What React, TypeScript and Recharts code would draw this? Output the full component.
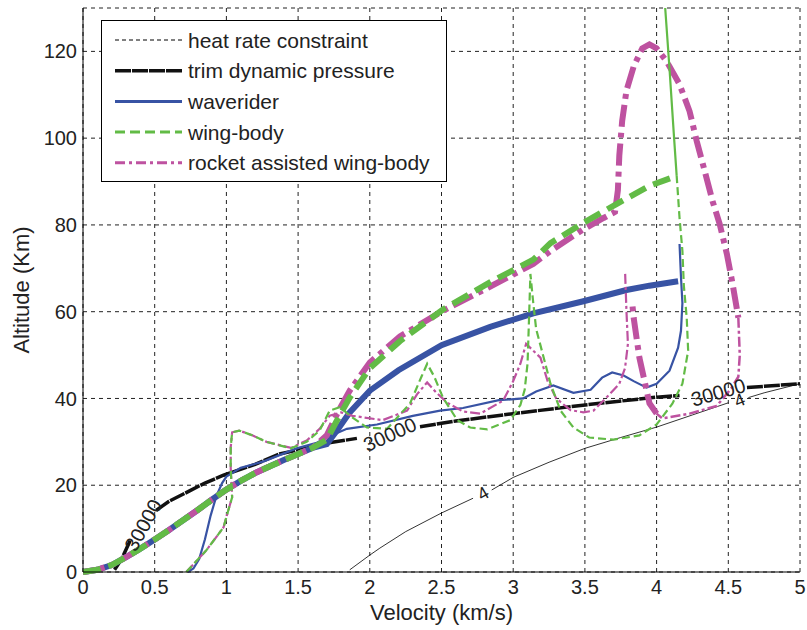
import { LineChart, Line, XAxis, YAxis, CartesianGrid, Legend, ReferenceDot } from "recharts";

type Pt = [number, number | null];

const FONT = '"Liberation Sans", Arial, Helvetica, sans-serif';
const BLUE = "#3853A4";
const GREEN = "#62BB46";
const MAGENTA = "#BE52A0";

const xTicks = [0, 0.5, 1, 1.5, 2, 2.5, 3, 3.5, 4, 4.5, 5];
const yTicks = [0, 20, 40, 60, 80, 100, 120];

const legendNames = [
  "heat rate constraint",
  "trim dynamic pressure",
  "waverider",
  "wing-body",
  "rocket assisted wing-body",
];

// shared low-altitude climb (all three thick trajectories overlap here)
const commonClimb: Pt[] = [
  [0, 0], [0.1, 0.5], [0.2, 1.6], [0.3, 3.4], [0.4, 5.4], [0.5, 7.5], [0.6, 9.7],
  [0.7, 12], [0.8, 14.3], [0.9, 16.7], [1.0, 19], [1.1, 21], [1.2, 22.8],
  [1.3, 24.3], [1.4, 25.8], [1.5, 27.2], [1.6, 28.6],
];

const heatRate: Pt[] = [
  [1.86, 0.5], [2.0, 3.9], [2.07, 5.5], [2.25, 9.3], [2.5, 13.6], [2.72, 17],
  [2.74, null],
  [2.85, 18.9], [3.0, 21.8], [3.25, 25.3], [3.5, 28.5], [3.75, 31], [4.0, 33.4],
  [4.25, 36.2], [4.5, 39], [4.52, null], [4.64, 40.2], [4.75, 41.3], [5.0, 43.4],
];

const trimPressure: Pt[] = [
  [0.22, 0.5], [0.27, 3], [0.33, 7.3], [0.4, null],
  [0.51, 14.2], [0.6, 16.3], [0.75, 18.8], [0.85, 20.5], [0.98, 22.3], [1.2, 24.8],
  [1.37, 27.2], [1.55, 28.5], [1.7, 29.7], [1.91, 30.8], [2.0, null],
  [2.35, 33.5], [2.6, 34.8], [3.0, 36.5], [3.47, 38.4], [4.0, 40.3], [4.16, 40.7],
  [4.3, null],
  [4.63, 42.5], [5.0, 43.4],
];

const waveriderThick: Pt[] = [
  ...commonClimb,
  [1.7, 29.5], [1.78, 33], [1.86, 36.8], [2.0, 41.8], [2.2, 46.5], [2.5, 52.3],
  [2.84, 56.5], [3.14, 59.6], [3.49, 62.4], [3.79, 65], [3.95, 66], [4.15, 67],
];

const waveriderThin: Pt[] = [
  [0.73, 0], [0.77, 0.8], [0.81, 3], [0.85, 7.5], [0.89, 13], [0.93, 17.5],
  [0.97, 20.5], [1.0, 22], [1.1, 24], [1.26, 25.5], [1.49, 28.5], [1.63, 29.8],
  [1.7, 31], [1.84, 33], [2.05, 34], [2.3, 36], [2.49, 37.2], [2.65, 37.8],
  [2.9, 39.6], [3.07, 40], [3.16, 41.6], [3.28, 43], [3.42, 41.3], [3.54, 42],
  [3.62, 44.8], [3.69, 46], [3.77, 45.3], [3.84, 44], [3.93, 42.5], [4.0, 43.4],
  [4.09, 46.4], [4.15, 51.7], [4.17, 55.6], [4.18, 62], [4.17, 68], [4.16, 75.6],
];

const wingBodyThick: Pt[] = [
  ...commonClimb,
  [1.7, 30.5], [1.78, 35.5], [1.86, 40.2], [2.0, 47], [2.21, 53.2], [2.51, 60.5],
  [2.84, 66.8], [3.14, 72], [3.26, 75.8], [3.49, 80.5], [3.72, 84.8], [3.95, 89],
  [4.14, 91.3],
];

const wingBodyClimb: Pt[] = [[4.14, 91.3], [4.12, 101], [4.09, 116], [4.06, 130]];

const wingBodyThin: Pt[] = [
  [0.72, 0], [0.86, 5], [0.98, 10.3], [1.02, 15], [1.04, 17.2], [1.03, 24],
  [1.03, 28.7], [1.04, 32.2], [1.09, 32.6], [1.18, 31.5], [1.28, 30], [1.45, 28.5],
  [1.56, 30], [1.65, 32.6], [1.72, 37.2], [1.79, 38], [1.88, 35.6], [1.98, 33.3],
  [2.12, 33], [2.28, 38.8], [2.36, 45], [2.4, 48], [2.45, 45], [2.51, 40.2],
  [2.61, 35], [2.7, 33.3], [2.82, 32.9], [2.98, 35], [3.05, 38.5], [3.08, 42],
  [3.1, 48], [3.11, 58], [3.12, 68.7], [3.14, 62], [3.16, 56], [3.2, 51],
  [3.26, 43.4], [3.33, 37.2], [3.42, 33.3], [3.53, 31], [3.7, 30.5], [3.88, 31.5],
  [4.0, 34], [4.11, 38.8], [4.18, 43.4], [4.22, 51], [4.21, 58.6], [4.19, 66],
  [4.18, 74], [4.16, 81.6], [4.14, 91.3],
];

const rocketThick: Pt[] = [
  ...commonClimb,
  [1.7, 31.5], [1.78, 37], [1.86, 41.8], [2.0, 48.3], [2.21, 54.3], [2.51, 60.2],
  [2.84, 65.8], [3.14, 71], [3.26, 74], [3.49, 79], [3.63, 81.6], [3.71, 83],
  [3.73, 88], [3.74, 96], [3.76, 104], [3.79, 111], [3.84, 116.5], [3.9, 120.7],
  [3.95, 121.6], [4.0, 120.7], [4.07, 117.7], [4.16, 112.4], [4.23, 106.2],
  [4.28, 99.3], [4.33, 93.1], [4.39, 85.5], [4.44, 80.2], [4.49, 73.3], [4.53, 66.4],
  [4.57, 58.6],
];

const rocketTail: Pt[] = [
  [4.57, 58.6], [4.58, 50], [4.57, 45], [4.52, 42.3], [4.42, 38.3], [4.23, 36.5],
  [4.04, 35.4], [4.0, 36.5],
];

const rocketDescent: Pt[] = [
  [4.0, 36.5], [3.95, 38.9], [3.92, 43.4], [3.88, 49.4], [3.84, 58.6], [3.83, 62],
];

const rocketThin: Pt[] = [
  [0.72, 0], [0.86, 5], [0.98, 10.3], [1.02, 15], [1.04, 17.2], [1.03, 24],
  [1.03, 28.7], [1.04, 32.2], [1.09, 32.6], [1.18, 31.5], [1.28, 30], [1.45, 28.6],
  [1.56, 30.3], [1.65, 33], [1.72, 36], [1.8, 36.8], [1.88, 36], [2.09, 35],
  [2.26, 37.2], [2.33, 41], [2.4, 43.7], [2.46, 41.5], [2.54, 39], [2.65, 37],
  [2.77, 36.5], [2.93, 39.5], [3.0, 44], [3.05, 48], [3.09, 52.6], [3.14, 51],
  [3.19, 49.4], [3.24, 44], [3.3, 40], [3.4, 37.3], [3.49, 36.8], [3.56, 37.2],
  [3.65, 40.2], [3.74, 43.4], [3.78, 47], [3.8, 52.6], [3.79, 60], [3.78, 69.4],
];

// contour labels written on the constraint curves
const contourLabels = [
  { v: 0.42, a: 10.8, text: "30000", angle: -61 },
  { v: 2.14, a: 31.7, text: "30000", angle: -24 },
  { v: 4.43, a: 41.4, text: "30000", angle: -16 },
  { v: 2.79, a: 18.1, text: "4", angle: -30 },
  { v: 4.58, a: 39.6, text: "4", angle: -22 },
];

const rows = (pts: Pt[]) => pts.map(([v, a]) => ({ v, a }));

const legendStyles = [
  { stroke: "#000", width: 1, dash: "4 3" },
  { stroke: "#111", width: 3.5, dash: "16 1" },
  { stroke: BLUE, width: 3, dash: undefined },
  { stroke: GREEN, width: 3, dash: "10 5" },
  { stroke: MAGENTA, width: 3, dash: "10 4 3 4" },
];

function LegendBox() {
  return (
    <svg width={346} height={162} style={{ display: "block" }}>
      <rect x={0.5} y={0.5} width={345} height={161} fill="#fff" stroke="#000" />
      {legendNames.map((name, i) => {
        const y = 20 + i * 30.7;
        const s = legendStyles[i];
        return (
          <g key={name}>
            <line x1={14} x2={81} y1={y} y2={y} stroke={s.stroke} strokeWidth={s.width} strokeDasharray={s.dash} />
            <text x={87} y={y + 7.5} fontSize={21} fontFamily={FONT} fill="#222">
              {name}
            </text>
          </g>
        );
      })}
    </svg>
  );
}

function XLabel(props: any) {
  const vb = props.viewBox || { x: 83, width: 717 };
  return (
    <text x={vb.x + vb.width / 2} y={620} textAnchor="middle" fontSize={22} fontFamily={FONT} fill="#222">
      Velocity (km/s)
    </text>
  );
}

function YLabel(props: any) {
  const vb = props.viewBox || { y: 8, height: 564 };
  const cy = vb.y + vb.height / 2;
  return (
    <text x={29} y={cy} transform={`rotate(-90, 29, ${cy})`} textAnchor="middle" fontSize={22} fontFamily={FONT} fill="#222">
      Altitude (Km)
    </text>
  );
}

const tickStyle = { fill: "#222", fontSize: 20, fontFamily: FONT };

export default function App() {
  return (
    <div style={{ position: "absolute", left: 0, top: 0, background: "#fff" }}>
      <LineChart width={807} height={630} margin={{ top: 8, right: 7, bottom: 8, left: 13 }}>
        <CartesianGrid stroke="#222" strokeDasharray="4 4" />
        <XAxis
          type="number"
          dataKey="v"
          domain={[0, 5]}
          ticks={xTicks}
          height={50}
          tickSize={6}
          tickLine={false}
          axisLine={{ stroke: "#000" }}
          tick={tickStyle}
          label={<XLabel />}
        />
        <YAxis
          type="number"
          dataKey="a"
          domain={[0, 130]}
          ticks={yTicks}
          width={70}
          tickSize={4}
          tickLine={false}
          axisLine={{ stroke: "#000" }}
          tick={tickStyle}
          label={<YLabel />}
        />
        <XAxis xAxisId="top" orientation="top" mirror type="number" domain={[0, 5]} ticks={xTicks} height={0} tick={false} tickSize={5} tickLine={{ stroke: "#000" }} axisLine={{ stroke: "#000" }} />
        <XAxis xAxisId="in" orientation="bottom" mirror type="number" domain={[0, 5]} ticks={xTicks} height={0} tick={false} tickSize={5} tickLine={{ stroke: "#000" }} axisLine={false} />
        <YAxis yAxisId="right" orientation="right" mirror type="number" domain={[0, 130]} ticks={yTicks} width={0} tick={false} tickSize={5} tickLine={{ stroke: "#000" }} axisLine={{ stroke: "#000" }} />
        <YAxis yAxisId="in" orientation="left" mirror type="number" domain={[0, 130]} ticks={yTicks} width={0} tick={false} tickSize={5} tickLine={{ stroke: "#000" }} axisLine={false} />

        <Line data={rows(heatRate)} dataKey="a" type="linear" stroke="#000" strokeWidth={0.8} dot={false} isAnimationActive={false} name={legendNames[0]} />
        <Line data={rows(trimPressure)} dataKey="a" type="linear" stroke="#111" strokeWidth={3.5} strokeDasharray="16 1" dot={false} isAnimationActive={false} name={legendNames[1]} />

        <Line data={rows(waveriderThin)} dataKey="a" type="linear" stroke={BLUE} strokeWidth={2.2} dot={false} isAnimationActive={false} legendType="none" />
        <Line data={rows(waveriderThick)} dataKey="a" type="linear" stroke={BLUE} strokeWidth={6} dot={false} isAnimationActive={false} name={legendNames[2]} />

        <Line data={rows(rocketThin)} dataKey="a" type="linear" stroke={MAGENTA} strokeWidth={2.2} strokeDasharray="10 3 3 3" dot={false} isAnimationActive={false} legendType="none" />
        <Line data={rows(rocketTail)} dataKey="a" type="linear" stroke={MAGENTA} strokeWidth={2.5} strokeDasharray="10 3 3 3" dot={false} isAnimationActive={false} legendType="none" />
        <Line data={rows(rocketDescent)} dataKey="a" type="linear" stroke={MAGENTA} strokeWidth={6} strokeDasharray="22 6 5 6" dot={false} isAnimationActive={false} legendType="none" />
        <Line data={rows(rocketThick)} dataKey="a" type="linear" stroke={MAGENTA} strokeWidth={6} strokeDasharray="22 6 5 6" dot={false} isAnimationActive={false} name={legendNames[4]} />

        <Line data={rows(wingBodyThin)} dataKey="a" type="linear" stroke={GREEN} strokeWidth={2.2} strokeDasharray="8 4" dot={false} isAnimationActive={false} legendType="none" />
        <Line data={rows(wingBodyClimb)} dataKey="a" type="linear" stroke={GREEN} strokeWidth={2.2} dot={false} isAnimationActive={false} legendType="none" />
        <Line data={rows(wingBodyThick)} dataKey="a" type="linear" stroke={GREEN} strokeWidth={6} strokeDasharray="18 8" dot={false} isAnimationActive={false} name={legendNames[3]} />

        {contourLabels.map((l, i) => (
          <ReferenceDot
            key={i}
            x={l.v}
            y={l.a}
            r={0}
            shape={(p: any) => (
              <text
                x={p.cx}
                y={p.cy}
                transform={`rotate(${l.angle}, ${p.cx}, ${p.cy})`}
                textAnchor="middle"
                dominantBaseline="central"
                fontSize={l.text === "4" ? 18 : 20}
                fontFamily={FONT}
                fill="#222"
              >
                {l.text}
              </text>
            )}
          />
        ))}

        <Legend
          layout="vertical"
          align="center"
          verticalAlign="middle"
          wrapperStyle={{ left: 101, top: 20, width: 346, height: 162 }}
          content={() => <LegendBox />}
        />
      </LineChart>
    </div>
  );
}
